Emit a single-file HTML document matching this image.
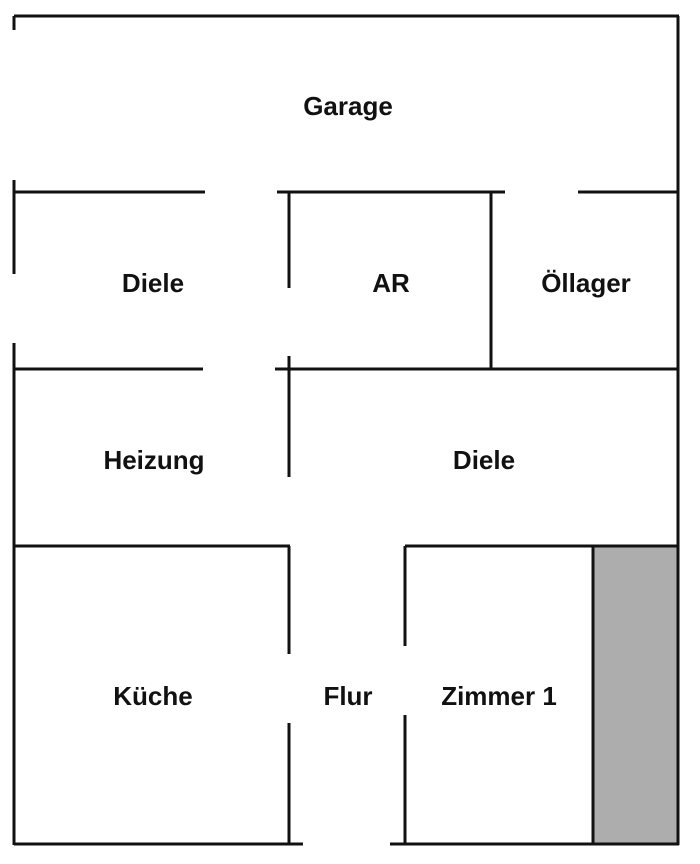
<!DOCTYPE html>
<html><head><meta charset="utf-8"><style>
html,body{margin:0;padding:0;background:#fff;}
svg{display:block}
text{font-family:"Liberation Sans",sans-serif;font-weight:bold;font-size:26px;fill:#111;text-anchor:middle;dominant-baseline:central}
</style></head><body>
<svg width="700" height="864" viewBox="0 0 700 864">
<rect x="593" y="546" width="85" height="297" fill="#adadad"/>
<g stroke="#111" stroke-width="3" fill="none">
<line x1="14" y1="16" x2="679" y2="16"/>
<line x1="14" y1="16" x2="14" y2="30"/>
<line x1="678" y1="16" x2="678" y2="845"/>
<line x1="14" y1="180" x2="14" y2="274"/>
<line x1="14" y1="343" x2="14" y2="845"/>
<line x1="14" y1="192" x2="205" y2="192"/>
<line x1="277" y1="192" x2="505" y2="192"/>
<line x1="578" y1="192" x2="678" y2="192"/>
<line x1="289" y1="192" x2="289" y2="288"/>
<line x1="491" y1="192" x2="491" y2="369"/>
<line x1="14" y1="369" x2="203" y2="369"/>
<line x1="275" y1="369" x2="678" y2="369"/>
<line x1="289" y1="356" x2="289" y2="477"/>
<line x1="14" y1="546" x2="290" y2="546"/>
<line x1="289" y1="546" x2="289" y2="654"/>
<line x1="289" y1="723" x2="289" y2="844"/>
<line x1="405" y1="546" x2="678" y2="546"/>
<line x1="405" y1="546" x2="405" y2="646"/>
<line x1="405" y1="715" x2="405" y2="844"/>
<line x1="593" y1="546" x2="593" y2="844"/>
<line x1="14" y1="844" x2="303" y2="844"/>
<line x1="390" y1="844" x2="679" y2="844"/>
</g>
<text x="348" y="106">Garage</text>
<text x="153" y="283">Diele</text>
<text x="391" y="283">AR</text>
<text x="586" y="283">Öllager</text>
<text x="154" y="460">Heizung</text>
<text x="484" y="460">Diele</text>
<text x="153" y="696">Küche</text>
<text x="348" y="696">Flur</text>
<text x="499" y="696">Zimmer 1</text>
</svg>
</body></html>
